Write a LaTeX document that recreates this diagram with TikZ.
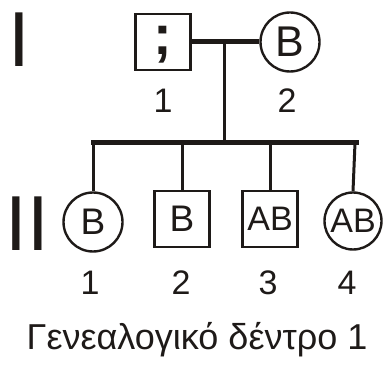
\documentclass[tikz,border=0pt]{standalone}
\usepackage{fontspec}
\setmainfont{Liberation Sans}
\definecolor{ink}{RGB}{30,26,24}
\tikzset{
  person/.style={draw=ink, line width=2.4pt, inner sep=0pt, text=ink},
  male/.style={person, rectangle, minimum width=55pt, minimum height=56pt},
  female/.style={person, circle, minimum size=59pt},
  label/.style={text=ink, inner sep=0pt, font=\fontsize{34}{38}\selectfont},
  gen/.style={text=ink, inner sep=0pt, font=\fontsize{78}{80}\selectfont},
  thick line/.style={draw=ink, line width=5pt},
  thin line/.style={draw=ink, line width=3pt}
}
\begin{document}
\begin{tikzpicture}[x=1pt,y=-1pt]
\useasboundingbox (0,0) rectangle (385,374);
% generation labels
\node[gen] (g1) at (19,40) {I};
\node[gen] (g2) at (27,224) {II};
% generation I
\node[male] (f1) at (163,42) {};
\node[text=ink, inner sep=0pt, font=\fontsize{56}{60}\selectfont\bfseries] (q) at (163,45) {;};
\node[female, font=\fontsize{43}{46}\selectfont] (m2) at (290,42) {B};
\node[label] (n11) at (163,101) {1};
\node[label] (n12) at (287,101) {2};
\draw[thick line] (f1.east) -- (m2.west);
\coordinate (mid) at (224,42);
\coordinate (sib) at (224,143);
\coordinate (sl) at (93,143);
\coordinate (sr) at (356,143);
\draw[thin line] (mid) -- (sib);
\draw[thick line, line cap=rect] (sl) -- (sr);
% generation II
\node[female, font=\fontsize{37}{40}\selectfont] (c1) at (93,222) {B};
\node[male, font=\fontsize{37}{40}\selectfont] (c2) at (182,219) {B};
\node[male, font=\fontsize{34}{36}\selectfont] (c3) at (270,219) {AB};
\node[female, minimum size=57pt, font=\fontsize{34}{36}\selectfont] (c4) at (353,221) {AB};
\coordinate (d1) at (93,143);
\coordinate (d2) at (182,143);
\coordinate (d3) at (270,143);
\coordinate (d4) at (355,143);
\draw[thin line] (d1) -- (c1.north);
\draw[thin line] (d2) -- (c2.north);
\draw[thin line] (d3) -- (c3.north);
\draw[thin line] (d4) -- (c4.north);
\node[label] (n21) at (90,283) {1};
\node[label] (n22) at (181,283) {2};
\node[label] (n23) at (268,283) {3};
\node[label] (n24) at (347,283) {4};
% caption
\node[text=ink, inner sep=0pt, font=\fontsize{36}{40}\selectfont] (cap) at (197,340) {Γενεαλογικό δέντρο 1};
\end{tikzpicture}
\end{document}
